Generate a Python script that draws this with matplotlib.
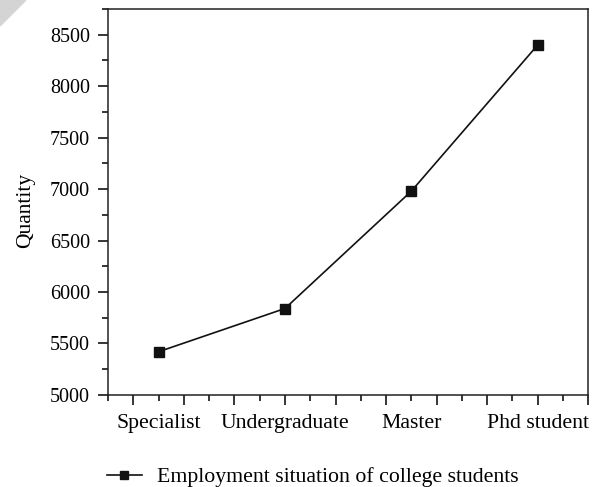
import matplotlib.pyplot as plt
from matplotlib.patches import Polygon
from matplotlib.ticker import MultipleLocator

plt.rcParams['font.family'] = ['Liberation Serif', 'DejaVu Serif']

categories = ['Specialist', 'Undergraduate', 'Master', 'Phd student']
positions = [1, 2, 3, 4]
quantity = [5420, 5840, 6980, 8400]

fig = plt.figure(figsize=(6.14, 4.87), dpi=100)
ax = fig.add_axes([0.176, 0.189, 0.782, 0.7925])

ax.plot(positions, quantity, color='#111111', lw=1.2, marker='s', ms=7,
        label='Employment situation of college students')

ax.set_xlim(0.6, 4.4)
ax.set_ylim(5000, 8750)
ax.xaxis.set_major_locator(MultipleLocator(0.4))
ax.xaxis.set_minor_locator(MultipleLocator(0.2))
ax.yaxis.set_major_locator(MultipleLocator(500))
ax.yaxis.set_minor_locator(MultipleLocator(250))
ax.set_xticklabels([])
ax.tick_params(which='major', direction='out', length=7, width=1.1, labelsize=14.5, pad=6)
ax.tick_params(which='minor', direction='out', length=4, width=1.1)
ax.tick_params(axis='y', right=False)
for s in ax.spines.values():
    s.set_linewidth(1.1)
    s.set_color('#222222')

sec = ax.secondary_xaxis('bottom')
sec.set_xticks(positions)
sec.set_xticklabels(categories)
sec.tick_params(length=0, pad=14, labelsize=15.7)
sec.spines['bottom'].set_visible(False)

ax.set_ylabel('Quantity', fontsize=15.5)
ax.yaxis.set_label_coords(-0.152, 0.479)

fig.legend(loc='center left', bbox_to_anchor=(107 / 614, 10 / 487), frameon=False,
           fontsize=15.7, handlelength=1.6, handletextpad=0.7, markerscale=0.8,
           borderpad=0, borderaxespad=0)

fig.patches.append(Polygon([[0, 1], [26 / 614, 1], [0, 1 - 26 / 487]],
                           closed=True, transform=fig.transFigure,
                           color='#d4d4d4', zorder=0))

fig.savefig('out.png', dpi=100)
